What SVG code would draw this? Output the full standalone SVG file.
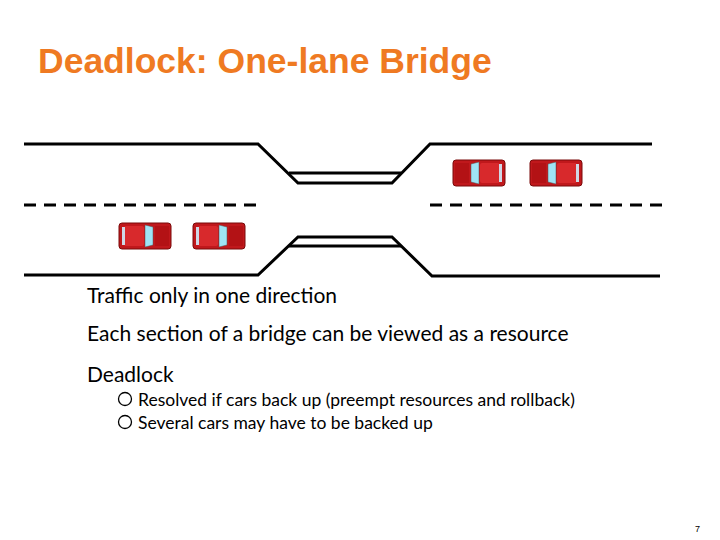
<svg xmlns="http://www.w3.org/2000/svg" width="720" height="540" viewBox="0 0 720 540">
<defs>
<style>
.r{stroke:#000;stroke-width:3;fill:none}
.d{stroke:#000;stroke-width:3;fill:none;stroke-dasharray:12 8}
.t{font-family:"Lato","Liberation Sans",sans-serif;font-size:21px;fill:#000}
.s{font-family:"Lato","Liberation Sans",sans-serif;font-size:17.5px;fill:#000}
</style>
<g id="car">
<rect x="0" y="0" width="52" height="26" rx="3" fill="#c0181c" stroke="#7a0a0a"/>
<rect x="5" y="3" width="20" height="20" rx="2" fill="#d8292c"/>
<path d="M26 2 L34 4 L34 22 L26 24 Z" fill="#9fe4f5" stroke="#555" stroke-width="0.5"/>
<rect x="3" y="4" width="3" height="18" fill="#cfd8e6"/>
<rect x="36" y="3" width="14" height="20" fill="#b31215"/>
</g>
</defs>
<text x="38" y="73" font-family="Liberation Sans,Arial,sans-serif" font-weight="bold" font-size="35.5" fill="#ef7a22">Deadlock: One-lane Bridge</text>
<g id="road">
<polyline class="r" points="24,144 258,144 298,183 392,183 430,144 652,144"/>
<line class="r" x1="289" y1="173" x2="401" y2="173"/>
<polyline class="r" points="24,275 258,275 298,237 392,237 432,276 660,276"/>
<line class="r" x1="289" y1="246" x2="401" y2="246"/>
<line class="d" x1="24" y1="205" x2="262" y2="205"/>
<line class="d" x1="430" y1="205" x2="666" y2="205"/>
</g>
<g id="cars">
<use href="#car" x="119" y="223"/>
<use href="#car" x="193" y="223"/>
<use href="#car" transform="translate(505,160) scale(-1,1)"/>
<use href="#car" transform="translate(582,160) scale(-1,1)"/>
</g>
<text class="t" x="87" y="303">Traffic only in one direction</text>
<text class="t" x="87" y="341">Each section of a bridge can be viewed as a resource</text>
<text class="t" x="87" y="382">Deadlock</text>
<circle cx="125" cy="399" r="6.5" fill="none" stroke="#000" stroke-width="1.3"/>
<text class="s" x="138" y="406">Resolved if cars back up (preempt resources and rollback)</text>
<circle cx="125" cy="422" r="6.5" fill="none" stroke="#000" stroke-width="1.3"/>
<text class="s" x="138" y="429">Several cars may have to be backed up</text>
<text x="700" y="532" font-family="Liberation Sans,sans-serif" font-size="9" text-anchor="end">7</text>
</svg>
